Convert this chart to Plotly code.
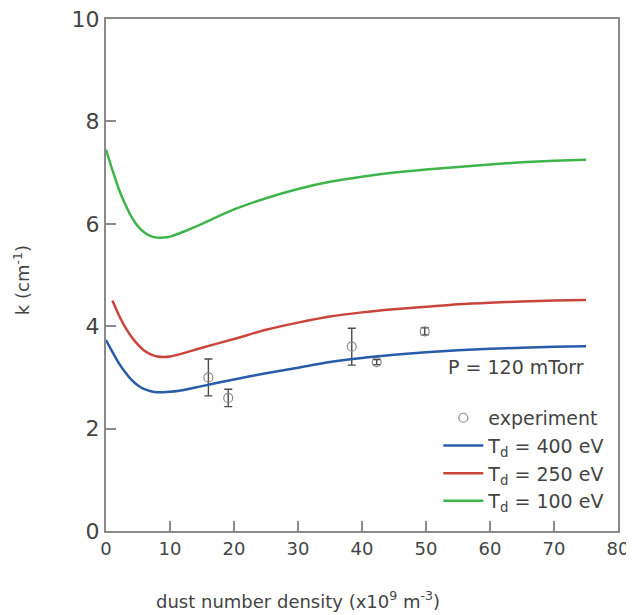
import plotly.graph_objects as go

# Experimental data
exp_x = [16.0, 19.1, 38.4, 42.3, 49.8]
exp_y = [3.0, 2.6, 3.6, 3.3, 3.9]
exp_err = [0.36, 0.17, 0.36, 0.05, 0.07]

# Model curves
x_100 = [0, 1, 2, 3, 4, 5, 6, 7, 8, 9, 10, 12, 15, 20, 25, 30, 35, 40, 45, 50, 55, 60, 65, 70, 75]
k_100 = [7.45, 7.05, 6.68, 6.38, 6.13, 5.95, 5.83, 5.76, 5.73, 5.73, 5.75, 5.84, 6.0, 6.28, 6.5, 6.68, 6.82, 6.92, 7.0, 7.06, 7.11, 7.16, 7.2, 7.23, 7.25]

x_250 = [1, 2, 3, 4, 5, 6, 7, 8, 9, 10, 12, 15, 20, 25, 30, 35, 40, 45, 50, 55, 60, 65, 70, 75]
k_250 = [4.5, 4.22, 3.98, 3.79, 3.64, 3.52, 3.45, 3.41, 3.40, 3.41, 3.47, 3.58, 3.75, 3.93, 4.07, 4.19, 4.27, 4.33, 4.38, 4.43, 4.46, 4.48, 4.5, 4.51]

x_400 = [0, 1, 2, 3, 4, 5, 6, 7, 8, 9, 10, 12, 15, 20, 25, 30, 35, 40, 45, 50, 55, 60, 65, 70, 75]
k_400 = [3.73, 3.5, 3.28, 3.1, 2.95, 2.84, 2.77, 2.73, 2.71, 2.71, 2.72, 2.75, 2.83, 2.96, 3.08, 3.19, 3.3, 3.38, 3.44, 3.49, 3.53, 3.56, 3.58, 3.6, 3.61]

x_ticks = [0, 10, 20, 30, 40, 50, 60, 70, 80]
y_ticks = [0, 2, 4, 6, 8, 10]

FONT = "DejaVu Sans"
TXT = "#444444"
AX = "#8a8a8a"

fig = go.Figure()
fig.add_trace(go.Scatter(
    x=exp_x, y=exp_y, mode="markers", name="experiment", legendgroup="a",
    marker=dict(symbol="circle-open", size=9, color="#888888", line=dict(width=1.2)),
    error_y=dict(type="data", array=exp_err, visible=True, color="#4a4a4a", thickness=1.4, width=4),
))
fig.add_trace(go.Scatter(x=x_400, y=k_400, mode="lines", name="T<sub>d</sub> = 400 eV", legendgroup="b",
                         line=dict(color="#2a5ba8", width=2.5, shape="spline", smoothing=0.8)))
fig.add_trace(go.Scatter(x=x_250, y=k_250, mode="lines", name="T<sub>d</sub> = 250 eV", legendgroup="c",
                         line=dict(color="#c9453c", width=2.5, shape="spline", smoothing=0.8)))
fig.add_trace(go.Scatter(x=x_100, y=k_100, mode="lines", name="T<sub>d</sub> = 100 eV", legendgroup="d",
                         line=dict(color="#3db54a", width=2.5, shape="spline", smoothing=0.8)))

fig.add_annotation(x=75, y=3.2, xref="x", yref="y", text="P = 120 mTorr", showarrow=False,
                   xanchor="right", yanchor="middle", font=dict(family=FONT, size=19, color=TXT))
fig.add_annotation(x=0.375, y=-0.135, xref="paper", yref="paper",
                   text="dust number density (x10<sup>9</sup> m<sup>-3</sup>)", showarrow=False,
                   xanchor="center", yanchor="middle", font=dict(family=FONT, size=18, color=TXT))
fig.add_annotation(x=-0.164, y=0.49, xref="paper", yref="paper", textangle=-90,
                   text="k (cm<sup>-1</sup>)", showarrow=False,
                   xanchor="center", yanchor="middle", font=dict(family=FONT, size=18, color=TXT))

axis_common = dict(showline=True, linecolor=AX, linewidth=2, mirror=True, ticks="inside",
                   ticklen=10, tickwidth=1.5, tickcolor=AX, showgrid=False, zeroline=False,
                   automargin=False, ticklabeloverflow="allow")

fig.update_layout(
    width=626, height=607,
    margin=dict(l=98, r=16, t=11, b=84),
    plot_bgcolor="white", paper_bgcolor="white",
    xaxis=dict(range=[0, 80], tickvals=x_ticks, ticktext=[str(v) for v in x_ticks],
               tickfont=dict(family=FONT, size=18, color=TXT), **axis_common),
    yaxis=dict(range=[0, 10], tickvals=y_ticks, ticktext=[str(v) for v in y_ticks],
               tickfont=dict(family=FONT, size=22, color=TXT), **axis_common),
    legend=dict(x=0.985, y=0.258, xanchor="right", yanchor="top", bgcolor="rgba(0,0,0,0)",
                font=dict(family=FONT, size=19, color=TXT), tracegroupgap=0, itemwidth=40),
    showlegend=True,
)

fig.write_html("out.html")
